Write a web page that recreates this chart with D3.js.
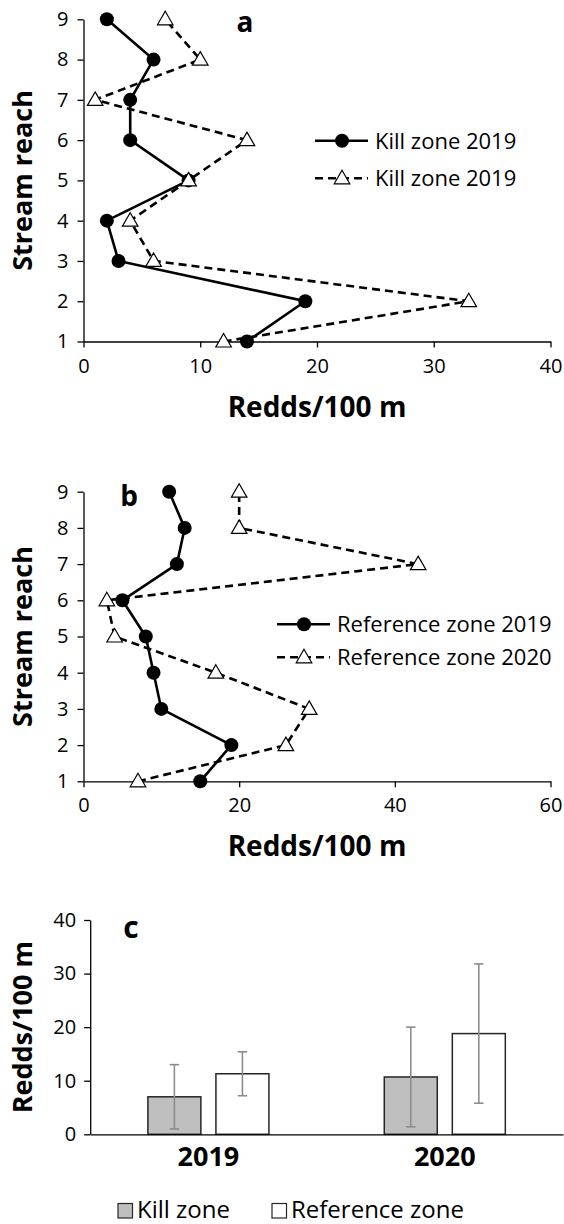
<!DOCTYPE html>
<html lang="en">
<head>
<meta charset="UTF-8">
<title>Redds per 100 m</title>
<style>
  body { margin: 0; background: #fff; }
  svg { display: block; font-family: 'Open Sans', sans-serif; }
</style>
</head>
<body>
<svg id="svg" width="564" height="1224"></svg>
<script src="https://d3js.org/d3.v7.min.js"></script>
<script>
// data (reach 1 .. 9)
const reaches = [1, 2, 3, 4, 5, 6, 7, 8, 9]
const killZone2019 = [14, 19, 3, 2, 9, 4, 4, 6, 2]
const killZone2020 = [12, 33, 6, 4, 9, 14, 1, 10, 7]
const refZone2019 = [15, 19, 10, 9, 8, 5, 12, 13, 11]
const refZone2020 = [7, 26, 29, 17, 4, 3, 43, 20, 20]
const ticksA = [0, 10, 20, 30, 40]
const ticksB = [0, 20, 40, 60]

// panel c
const years = ['2019', '2020']
const zones = ['Kill zone', 'Reference zone']
const meanKill = [7.0, 10.7]
const meanRef = [11.3, 18.8]
const errKill = [6.0, 9.3]
const errRef = [4.1, 13.0]
const ticksC = [0, 10, 20, 30, 40]

const svg = d3.select('#svg')

function linePanel(opt) {
    const x = d3.scaleLinear().domain(opt.xDomain).range([83.5, 550.5])
    const y = d3.scaleLinear().domain([1, 9]).range([opt.bottom, opt.top])
    const g = svg.append('g')

    // axes
    const ya = g.append('g')
        .attr('transform', `translate(${x(0)},0)`)
        .call(d3.axisLeft(y).tickValues(reaches).tickSize(6).tickSizeOuter(0).tickPadding(9))
    const xa = g.append('g')
        .attr('transform', `translate(0,${y(1)})`)
        .call(d3.axisBottom(x).tickValues(opt.ticks).tickSize(6).tickSizeOuter(0).tickPadding(11))
    ;[ya, xa].forEach(a => {
        a.selectAll('path, line').attr('stroke', '#000').attr('stroke-width', 1.3)
        a.selectAll('text').style('font-size', '20px').attr('fill', '#000')
        a.attr('font-family', null)
    })

    const line = d3.line().x(d => x(d[0])).y(d => y(d[1]))
    const tri = d3.symbol().type(d3.symbolTriangle).size(105)

    // series 1 solid with circles
    const s1 = opt.s1.map((v, i) => [v, reaches[i]])
    g.append('path').attr('d', line(s1))
        .attr('fill', 'none').attr('stroke', '#000').attr('stroke-width', 2.6)
    g.selectAll('.dot').data(s1).enter().append('circle')
        .attr('cx', d => x(d[0])).attr('cy', d => y(d[1])).attr('r', 7)
        .attr('fill', '#000')

    // series 2 dashed with triangles
    const s2 = opt.s2.map((v, i) => [v, reaches[i]])
    g.append('path').attr('d', line(s2))
        .attr('fill', 'none').attr('stroke', '#000').attr('stroke-width', 2.6)
        .attr('stroke-dasharray', '8,5')
    g.selectAll('.tri').data(s2).enter().append('path')
        .attr('d', tri)
        .attr('transform', d => `translate(${x(d[0])},${y(d[1]) + 1})`)
        .attr('fill', '#fff').attr('stroke', '#000').attr('stroke-width', 1.2)

    // legend
    opt.legend.forEach((lab, i) => {
        const ly = opt.legendY[i]
        const lx = opt.legendX
        const lg = g.append('g')
        lg.append('line')
            .attr('x1', lx).attr('x2', lx + 53).attr('y1', ly).attr('y2', ly)
            .attr('stroke', '#000').attr('stroke-width', 2.6)
            .attr('stroke-dasharray', i ? '8,5' : null)
        if (i === 0) {
            lg.append('circle').attr('cx', lx + 27).attr('cy', ly).attr('r', 7).attr('fill', '#000')
        } else {
            lg.append('path').attr('d', tri)
                .attr('transform', `translate(${lx + 27},${ly + 1})`)
                .attr('fill', '#fff').attr('stroke', '#000').attr('stroke-width', 1.2)
        }
        lg.append('text').text(lab)
            .attr('x', lx + 60).attr('y', ly + 8)
            .style('font-size', '22px')
    })

    // titles
    g.append('text').text('Redds/100 m')
        .attr('x', (x.range()[0] + x.range()[1]) / 2).attr('y', y(1) + 75)
        .attr('text-anchor', 'middle')
        .style('font-size', '28px').style('font-weight', 'bold')
    g.append('text').text('Stream reach')
        .attr('transform', `translate(32,${(opt.top + opt.bottom) / 2}) rotate(-90)`)
        .attr('text-anchor', 'middle')
        .style('font-size', '27px').style('font-weight', 'bold')
    g.append('text').text(opt.letter)
        .attr('x', opt.letterX).attr('y', opt.letterY)
        .attr('text-anchor', 'middle')
        .style('font-size', '28px').style('font-weight', 'bold')
}

linePanel({
    xDomain: [0, 40], ticks: ticksA, top: 19.3, bottom: 341.5,
    s1: killZone2019, s2: killZone2020,
    legend: ['Kill zone 2019', 'Kill zone 2019'], legendX: 315, legendY: [140.7, 178.3],
    letter: 'a', letterX: 245, letterY: 32
})

linePanel({
    xDomain: [0, 60], ticks: ticksB, top: 491.7, bottom: 781.3,
    s1: refZone2019, s2: refZone2020,
    legend: ['Reference zone 2019', 'Reference zone 2020'], legendX: 277, legendY: [624.3, 657.3],
    letter: 'b', letterX: 129, letterY: 506
})

// panel c: bars
const xc = d3.scaleBand().domain(years).range([90.2, 563]).paddingInner(0.488).paddingOuter(0.244)
const xz = d3.scaleBand().domain(zones).range([0, xc.bandwidth()]).paddingInner(0.221)
const yc = d3.scaleLinear().domain([0, 40]).range([1134.3, 920])
const gc = svg.append('g')

const bars = []
years.forEach((yr, i) => {
    bars.push({ year: yr, zone: zones[0], v: meanKill[i], e: errKill[i] })
    bars.push({ year: yr, zone: zones[1], v: meanRef[i], e: errRef[i] })
})
const fills = { 'Kill zone': '#bfbfbf', 'Reference zone': '#fff' }

gc.selectAll('.bar').data(bars).enter().append('rect')
    .attr('x', d => xc(d.year) + xz(d.zone))
    .attr('y', d => yc(d.v))
    .attr('width', xz.bandwidth())
    .attr('height', d => yc(0) - yc(d.v))
    .attr('fill', d => fills[d.zone])
    .attr('stroke', '#262626').attr('stroke-width', 1.5)

const eb = gc.selectAll('.err').data(bars).enter().append('g')
    .attr('stroke', '#8c8c8c').attr('stroke-width', 1.6)
eb.append('line')
    .attr('x1', d => xc(d.year) + xz(d.zone) + xz.bandwidth() / 2)
    .attr('x2', d => xc(d.year) + xz(d.zone) + xz.bandwidth() / 2)
    .attr('y1', d => yc(d.v - d.e)).attr('y2', d => yc(d.v + d.e))
;[-1, 1].forEach(s => {
    eb.append('line')
        .attr('x1', d => xc(d.year) + xz(d.zone) + xz.bandwidth() / 2 - 4.7)
        .attr('x2', d => xc(d.year) + xz(d.zone) + xz.bandwidth() / 2 + 4.7)
        .attr('y1', d => yc(d.v + s * d.e)).attr('y2', d => yc(d.v + s * d.e))
})

const yca = gc.append('g')
    .attr('transform', `translate(${xc.range()[0]},0)`)
    .call(d3.axisLeft(yc).tickValues(ticksC).tickSize(6).tickSizeOuter(0).tickPadding(8))
yca.selectAll('path, line').attr('stroke', '#000').attr('stroke-width', 1.3)
yca.selectAll('text').style('font-size', '20px').attr('fill', '#000')
yca.attr('font-family', null)

const xca = gc.append('g')
    .attr('transform', `translate(0,${yc(0)})`)
    .call(d3.axisBottom(xc).tickSize(0).tickSizeOuter(0).tickPadding(13))
xca.select('path').attr('stroke', '#000').attr('stroke-width', 1.3)
xca.selectAll('text').style('font-size', '27px').style('font-weight', 'bold').attr('fill', '#000')
xca.attr('font-family', null)

gc.append('text').text('Redds/100 m')
    .attr('transform', `translate(32,${(yc(0) + yc(40)) / 2}) rotate(-90)`)
    .attr('text-anchor', 'middle')
    .style('font-size', '27px').style('font-weight', 'bold')
gc.append('text').text('c')
    .attr('x', 131).attr('y', 938)
    .attr('text-anchor', 'middle')
    .style('font-size', '30px').style('font-weight', 'bold')

// legend c
const legX = [118, 272]
zones.forEach((z, i) => {
    gc.append('rect')
        .attr('x', legX[i]).attr('y', 1203.5).attr('width', 14.5).attr('height', 14.5)
        .attr('fill', fills[z]).attr('stroke', '#262626').attr('stroke-width', 1.2)
    gc.append('text').text(z)
        .attr('x', legX[i] + 19).attr('y', 1218)
        .style('font-size', '24px')
})
</script>
</body>
</html>
